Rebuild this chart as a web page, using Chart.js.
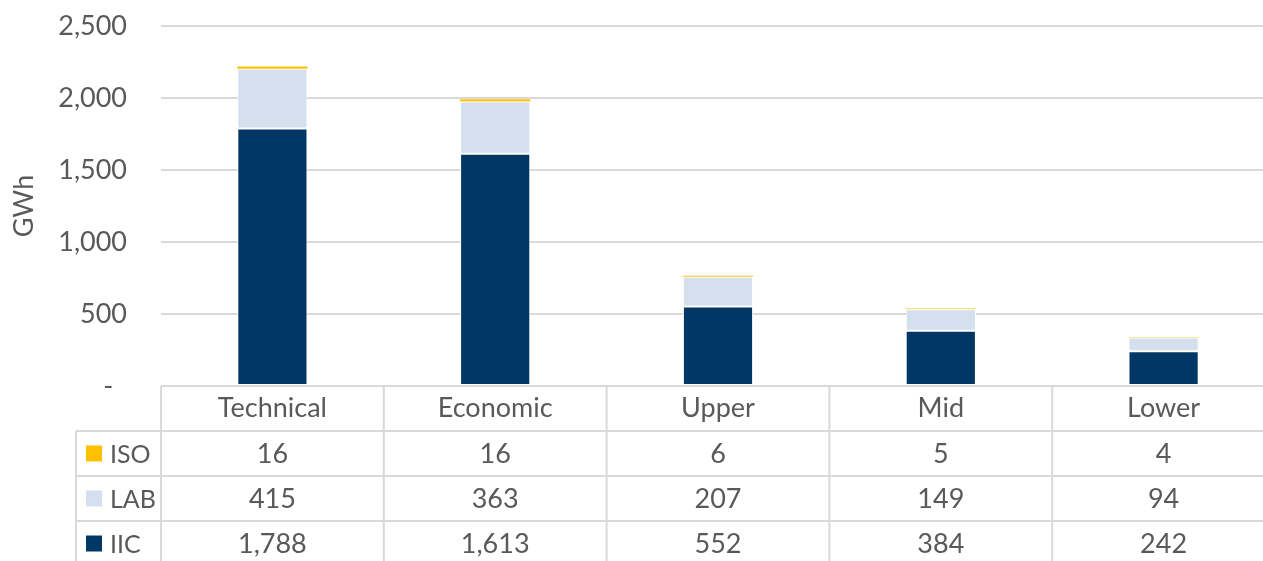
<!DOCTYPE html>
<html lang="en">
<head>
  <meta charset="UTF-8" />
  <title>GWh by scenario</title>
  <script src="https://cdn.jsdelivr.net/npm/chart.js"></script>
  <style>
    body {
      margin: 0;
      background: #ffffff;
      overflow: hidden;
    }
    #wrap {
      width: 1275px;
      height: 561px;
    }
  </style>
</head>
<body>
  <div id="wrap"><canvas id="gwhChart" width="1275" height="561"></canvas></div>

  <script>
    const categories = ['Technical', 'Economic', 'Upper', 'Mid', 'Lower'];
    const iicValues = [1788, 1613, 552, 384, 242];
    const labValues = [415, 363, 207, 149, 94];
    const isoValues = [16, 16, 6, 5, 4];
    const yTicks = [0, 500, 1000, 1500, 2000, 2500];

    const textColor = '#595959';
    const lineColor = '#d9d9d9';
    const fontFamily = "Lato, 'Liberation Sans', sans-serif";
    const fontSize = 27;

    // draws the data table under the plot, lined up with the x scale
    const dataTable = {
      id: 'dataTable',
      afterDraw(chart) {
        const ctx = chart.ctx;
        const x = chart.scales.x;
        const area = chart.chartArea;
        const rowH = 45;
        const headTop = area.bottom;
        const firstRow = headTop + rowH;
        const legendLeft = 76;
        const right = chart.width;
        const rows = chart.data.datasets.slice().reverse();
        const bottom = firstRow + rows.length * rowH;
        const half = (x.getPixelForValue(1) - x.getPixelForValue(0)) / 2;

        ctx.save();
        ctx.strokeStyle = lineColor;
        ctx.lineWidth = 2;
        ctx.beginPath();
        // horizontal lines
        ctx.moveTo(area.left, headTop);
        ctx.lineTo(right, headTop);
        for (let r = 0; r <= rows.length; r++) {
          ctx.moveTo(legendLeft, firstRow + r * rowH);
          ctx.lineTo(right, firstRow + r * rowH);
        }
        // vertical lines
        ctx.moveTo(legendLeft, firstRow);
        ctx.lineTo(legendLeft, bottom);
        categories.forEach((c, i) => {
          const left = x.getPixelForValue(i) - half;
          ctx.moveTo(left, headTop);
          ctx.lineTo(left, bottom);
        });
        ctx.stroke();

        ctx.textBaseline = 'middle';
        rows.forEach((ds, r) => {
          const cy = firstRow + r * rowH + rowH / 2;
          ctx.fillStyle = ds.backgroundColor;
          ctx.fillRect(86, cy - 8, 16, 16);
          ctx.fillStyle = textColor;
          ctx.font = (fontSize - 2) + 'px ' + fontFamily;
          ctx.textAlign = 'left';
          ctx.fillText(ds.label, 110, cy + 1);
          ctx.font = fontSize + 'px ' + fontFamily;
          ctx.textAlign = 'center';
          ds.data.forEach((v, i) => {
            ctx.fillText(v.toLocaleString('en-US'), x.getPixelForValue(i), cy + 1);
          });
        });
        ctx.restore();
      }
    };

    new Chart(document.getElementById('gwhChart'), {
      type: 'bar',
      data: {
        labels: categories,
        datasets: [
          { label: 'IIC', data: iicValues, backgroundColor: '#003764', borderWidth: 1 },
          { label: 'LAB', data: labValues, backgroundColor: '#d5e0ef', borderWidth: 1 },
          { label: 'ISO', data: isoValues, backgroundColor: '#ffc000', borderWidth: 0 }
        ]
      },
      options: {
        responsive: false,
        animation: false,
        devicePixelRatio: 1,
        layout: { padding: { top: 26, left: 0, right: 0, bottom: 0 } },
        datasets: {
          bar: {
            categoryPercentage: 1,
            barPercentage: 0.315,
            borderColor: '#ffffff',
            borderSkipped: false
          }
        },
        plugins: {
          legend: { display: false },
          tooltip: { enabled: false }
        },
        scales: {
          x: {
            stacked: true,
            grid: { display: false, drawTicks: false },
            border: { display: false },
            ticks: {
              color: textColor,
              font: { family: fontFamily, size: fontSize },
              padding: 6
            },
            afterFit(scale) { scale.height = 175; }
          },
          y: {
            stacked: true,
            min: 0,
            max: 2500,
            afterBuildTicks(scale) { scale.ticks = yTicks.map(v => ({ value: v })); },
            grid: { color: lineColor, lineWidth: 2, drawTicks: false },
            border: { display: false },
            ticks: {
              color: textColor,
              font: { family: fontFamily, size: fontSize },
              padding: 34,
              callback: v => v === 0 ? '-  ' : v.toLocaleString('en-US')
            },
            title: {
              display: true,
              text: 'GWh',
              color: textColor,
              font: { family: fontFamily, size: fontSize },
              padding: { top: 8, bottom: 0 }
            },
            afterFit(scale) {
              scale.width = 161;
              scale.paddingTop = 0;
              scale.paddingBottom = 0;
            }
          }
        }
      },
      plugins: [dataTable]
    });
  </script>
</body>
</html>
